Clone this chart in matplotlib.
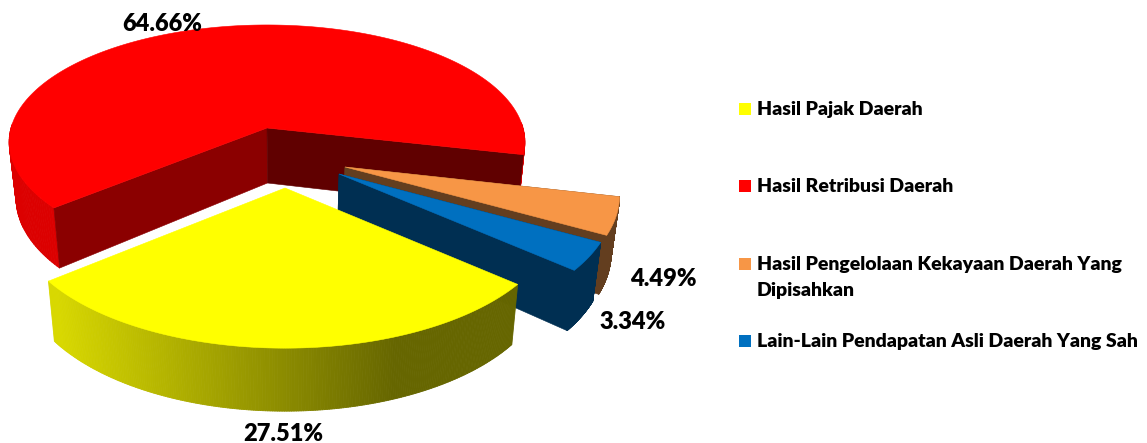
"""Exploded 3D pie of Pendapatan Asli Daerah shares, drawn from projected wedges."""

from __future__ import annotations

import matplotlib

matplotlib.use("Agg")

import matplotlib.pyplot as plt
import numpy as np
from matplotlib.collections import PolyCollection
from matplotlib.colors import to_rgb
from matplotlib.patches import Polygon, Rectangle

plt.rcParams["font.family"] = ["Lato", "DejaVu Sans"]

categories = [
    "Hasil Pajak Daerah",
    "Hasil Retribusi Daerah",
    "Hasil Pengelolaan Kekayaan Daerah Yang\nDipisahkan",
    "Lain-Lain Pendapatan Asli Daerah Yang Sah",
]
shares = [27.51, 64.66, 4.49, 3.34]

top_colors = ["#FFFF00", "#FF0000", "#F79646", "#0070C0"]
side_colors = [None, "#DC0000", "#633E1F", "#002F52"]
# cut faces: (edge where the slice starts, edge where it ends)
radial_colors = [None, ("#8B0000", "#600000"), ("#633E1F", "#633E1F"), ("#002F52", "#002F52")]

# apex on screen, then radius, vertical radius and perspective strength
apex = [(285, 188), (267, 128), (345, 167), (339, 174)]
shape = [(265, 125.4, 0.217), (256, 115.4, 0.12), (268, 125.4, 0.217), (268, 125.4, 0.217)]

label_pos = [(283, 441), (162, 31), (663, 286), (633, 329)]
legend_y = [103, 180, 258, 335]

START_ANGLE = 318.8  # first slice starts here and runs clockwise
DRAW_ORDER = [1, 2, 3, 0]
LEGEND_SIZE = 14


def project(idx, theta):
    cx, cy = apex[idx]
    radius, vertical, k = shape[idx]
    u, v = np.cos(theta), -np.sin(theta)
    denom = 1 - k * v
    return cx + radius * u / denom, cy + vertical * v / denom, v


def drop(x, y, v):
    # side faces lean slightly inward as they go down
    return 285 + (x - 285) * 0.975, y + 55 + 8 * v


def mix(c0, c1, f):
    a, b = np.array(to_rgb(c0)), np.array(to_rgb(c1))
    return tuple(a + (b - a) * np.clip(f, 0, 1))


def draw_slice(ax, idx, a0, a1):
    # a0 > a1, going clockwise
    thetas = np.radians(np.linspace(a0, a1, 240))
    xs, ys, vs = project(idx, thetas)
    bx, by = drop(xs, ys, vs)
    cx, cy = apex[idx]
    acx, acy = drop(cx, cy, 0.0)

    quads, colors = [], []
    for i in range(len(thetas) - 1):
        if vs[i] < -0.03 and vs[i + 1] < -0.03:
            continue
        quads.append([(xs[i], ys[i]), (xs[i + 1], ys[i + 1]), (bx[i + 1], by[i + 1]), (bx[i], by[i])])
        if side_colors[idx] is None:
            colors.append(mix("#D8D800", "#666600", (xs[i] - 57) / 340))
        else:
            colors.append(to_rgb(side_colors[idx]))
    ax.add_collection(PolyCollection(quads, facecolors=colors, edgecolors=colors, linewidths=0.6))

    if radial_colors[idx] is not None:
        start_col, end_col = radial_colors[idx]
        ax.add_patch(Polygon([(cx, cy), (xs[0], ys[0]), (bx[0], by[0]), (acx, acy)],
                             closed=True, fc=start_col, ec=start_col, lw=0.4))
        ax.add_patch(Polygon([(cx, cy), (xs[-1], ys[-1]), (bx[-1], by[-1]), (acx, acy)],
                             closed=True, fc=end_col, ec=end_col, lw=0.4))

    outline = [(cx, cy)] + list(zip(xs, ys))
    ax.add_patch(Polygon(outline, closed=True, fc=top_colors[idx], ec=top_colors[idx], lw=0.4))


def main() -> None:
    fig = plt.figure(figsize=(11.47, 4.43), dpi=100)
    ax = fig.add_axes([0, 0, 1, 1])
    ax.set_xlim(0, 1147)
    ax.set_ylim(443, 0)
    ax.axis("off")

    spans = np.array(shares) / sum(shares) * 360
    bounds = START_ANGLE - np.concatenate([[0], np.cumsum(spans)])
    for idx in DRAW_ORDER:
        draw_slice(ax, idx, bounds[idx], bounds[idx + 1])

    for value, (x, y) in zip(shares, label_pos):
        ax.text(x, y, f"{value:.2f}%", ha="center", va="baseline", fontsize=17, fontweight="heavy", color="black")

    for name, color, y in zip(categories, top_colors, legend_y):
        ax.add_patch(Rectangle((739, y), 12, 12, fc=color, ec="none"))
        ax.text(757, y + 12, name.split("\n")[0], ha="left", va="baseline",
                fontsize=LEGEND_SIZE, fontweight="heavy", color="black")
        if "\n" in name:
            ax.text(757, y + 38, name.split("\n")[1], ha="left", va="baseline",
                    fontsize=LEGEND_SIZE, fontweight="heavy", color="black")

    fig.savefig("out.png", dpi=100)
    plt.close(fig)


if __name__ == "__main__":
    main()
